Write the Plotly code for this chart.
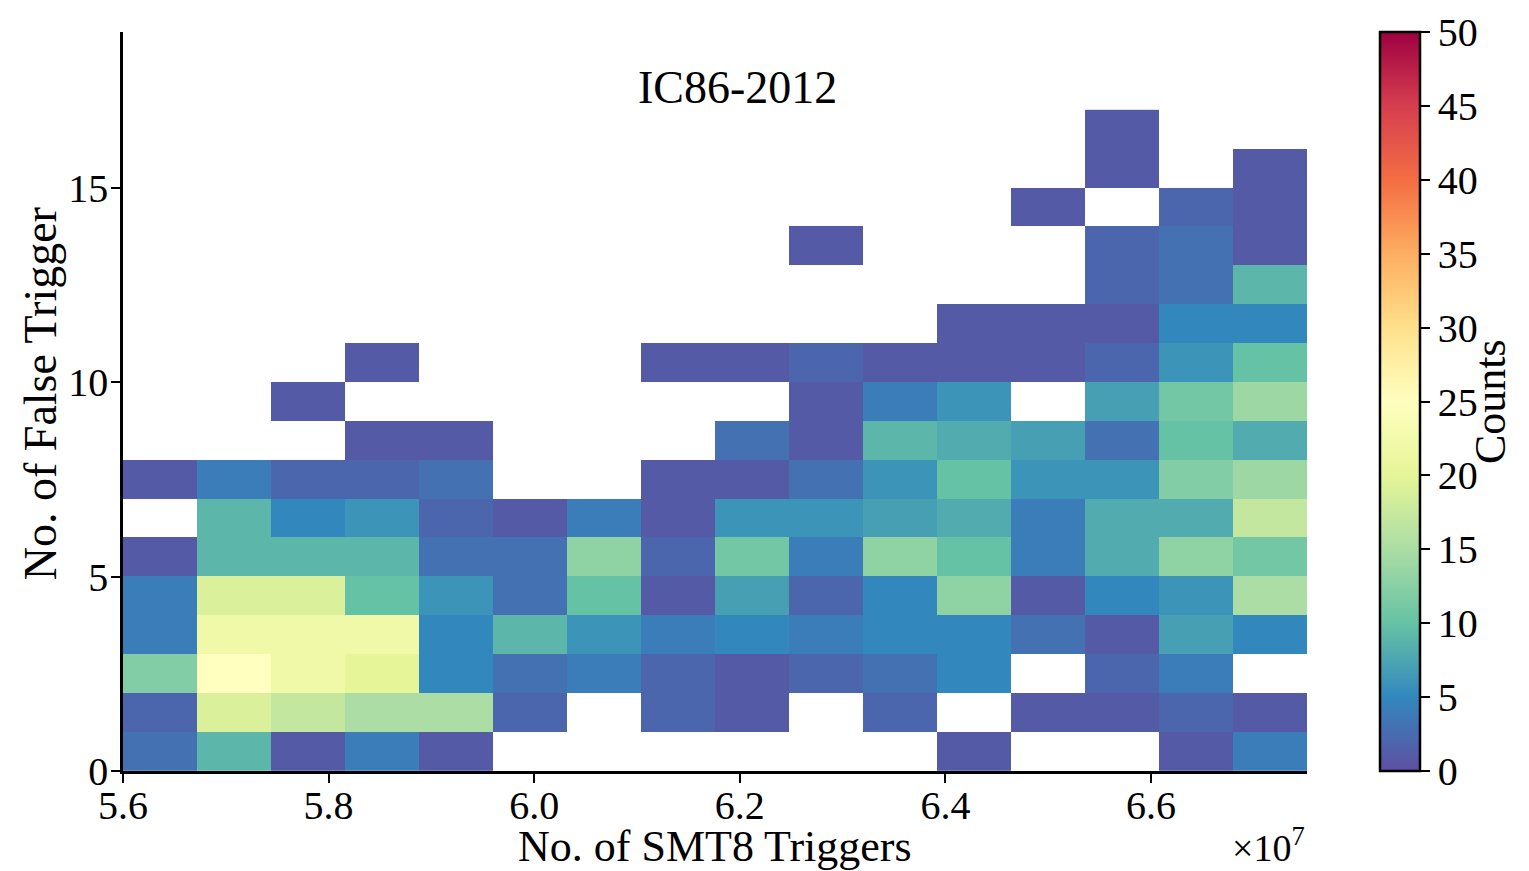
import plotly.graph_objects as go

# ---- data ----
x_start = 5.6e7          # first bin edge of SMT8 triggers
x_bin_width = 0.07198e7  # width of one SMT8 bin
y_edges = list(range(0, 18))  # false-trigger bin edges 0..17

# counts per SMT8 bin (column), listed from false-trigger bin 0 upward
col_counts = [
    [3, 2, 12, 4, 4, 1, 0, 1, 0, 0, 0, 0, 0, 0, 0, 0, 0],
    [9, 19, 25, 22, 19, 9, 9, 4, 0, 0, 0, 0, 0, 0, 0, 0, 0],
    [1, 17, 22, 22, 19, 9, 5, 2, 0, 1, 0, 0, 0, 0, 0, 0, 0],
    [4, 15, 20, 22, 10, 9, 6, 2, 1, 0, 1, 0, 0, 0, 0, 0, 0],
    [1, 15, 5, 5, 6, 3, 2, 3, 1, 0, 0, 0, 0, 0, 0, 0, 0],
    [0, 2, 3, 9, 3, 3, 1, 0, 0, 0, 0, 0, 0, 0, 0, 0, 0],
    [0, 0, 4, 6, 10, 13, 4, 0, 0, 0, 0, 0, 0, 0, 0, 0, 0],
    [0, 2, 2, 4, 1, 2, 1, 1, 0, 0, 1, 0, 0, 0, 0, 0, 0],
    [0, 1, 1, 5, 7, 11, 6, 1, 3, 0, 1, 0, 0, 0, 0, 0, 0],
    [0, 0, 2, 4, 2, 4, 6, 3, 1, 1, 2, 0, 0, 1, 0, 0, 0],
    [0, 2, 3, 5, 5, 13, 7, 6, 9, 4, 1, 0, 0, 0, 0, 0, 0],
    [1, 0, 5, 5, 13, 10, 8, 10, 8, 6, 1, 1, 0, 0, 0, 0, 0],
    [0, 1, 0, 3, 1, 4, 4, 6, 7, 0, 1, 1, 0, 0, 1, 0, 0],
    [0, 1, 2, 1, 5, 8, 8, 6, 3, 7, 2, 1, 2, 2, 0, 1, 1],
    [1, 2, 4, 7, 6, 13, 8, 12, 10, 11, 6, 5, 3, 3, 2, 0, 0],
    [4, 1, 0, 5, 15, 11, 17, 14, 8, 14, 10, 5, 9, 1, 1, 1, 0],
]

x_tick_vals = [5.6e7, 5.8e7, 6.0e7, 6.2e7, 6.4e7, 6.6e7]
x_tick_text = ["5.6", "5.8", "6.0", "6.2", "6.4", "6.6"]
y_tick_vals = [0, 5, 10, 15]
cbar_ticks = [0, 5, 10, 15, 20, 25, 30, 35, 40, 45, 50]

# ---- build ----
n_x = len(col_counts)
n_y = len(y_edges) - 1
x_edges = [x_start + i * x_bin_width for i in range(n_x + 1)]
z = [[(col_counts[c][r] if col_counts[c][r] > 0 else None) for c in range(n_x)]
     for r in range(n_y)]

spectral_r = [
    [0.0, "#5e4fa2"], [0.1, "#3288bd"], [0.2, "#66c2a5"], [0.3, "#abdda4"],
    [0.4, "#e6f598"], [0.5, "#ffffbf"], [0.6, "#fee08b"], [0.7, "#fdae61"],
    [0.8, "#f46d43"], [0.9, "#d53e4f"], [1.0, "#9e0142"],
]

FONT = "Liberation Serif"

fig = go.Figure(go.Heatmap(
    x=x_edges, y=y_edges, z=z,
    zmin=0, zmax=50, colorscale=spectral_r,
    hoverongaps=False,
    colorbar=dict(
        x=1.0617, xanchor="left", xref="paper",
        y=0.5, yanchor="middle", len=1.0, lenmode="fraction",
        thickness=40, thicknessmode="pixels",
        outlinewidth=2.5, outlinecolor="black",
        tickvals=cbar_ticks, ticks="outside", ticklen=9, tickwidth=2,
        tickcolor="black",
        tickfont=dict(family=FONT, size=40, color="black"),
        xpad=0, ypad=0,
    ),
))

fig.update_layout(
    width=1529, height=871,
    margin=dict(l=123, r=222, t=32, b=100),
    paper_bgcolor="white", plot_bgcolor="white",
    font=dict(family=FONT, color="black"),
    xaxis=dict(
        range=[x_edges[0], x_edges[-1]],
        tickvals=x_tick_vals, ticktext=x_tick_text,
        ticks="outside", ticklen=9, tickwidth=2, tickcolor="black",
        ticklabelstandoff=-12,
        tickfont=dict(family=FONT, size=40, color="black"),
        showline=True, linecolor="black", linewidth=2.5,
        showgrid=False, zeroline=False,
    ),
    yaxis=dict(
        range=[0, 19],
        tickvals=y_tick_vals,
        ticks="outside", ticklen=9, tickwidth=2, tickcolor="black",
        ticklabelstandoff=-5,
        tickfont=dict(family=FONT, size=40, color="black"),
        showline=True, linecolor="black", linewidth=2.5,
        showgrid=False, zeroline=False,
    ),
    annotations=[
        dict(text="IC86-2012", x=0.519, y=0.925, xref="paper", yref="paper",
             xanchor="center", yanchor="middle", showarrow=False,
             font=dict(family=FONT, size=46, color="black")),
        dict(text="No. of SMT8 Triggers", x=0.5, y=-0.102, xref="paper", yref="paper",
             xanchor="center", yanchor="middle", showarrow=False,
             font=dict(family=FONT, size=44, color="black")),
        dict(text="×10<sup>7</sup>", x=1.0, y=-0.1, xref="paper", yref="paper",
             xanchor="right", yanchor="middle", showarrow=False,
             font=dict(family=FONT, size=38, color="black")),
        dict(text="No. of False Trigger", x=-0.07, y=0.51, xref="paper", yref="paper",
             xanchor="center", yanchor="middle", showarrow=False, textangle=-90,
             font=dict(family=FONT, size=46, color="black")),
        dict(text="Counts", x=1.155, y=0.5, xref="paper", yref="paper",
             xanchor="center", yanchor="middle", showarrow=False, textangle=-90,
             font=dict(family=FONT, size=44, color="black")),
    ],
)

fig.write_html("out.html")
